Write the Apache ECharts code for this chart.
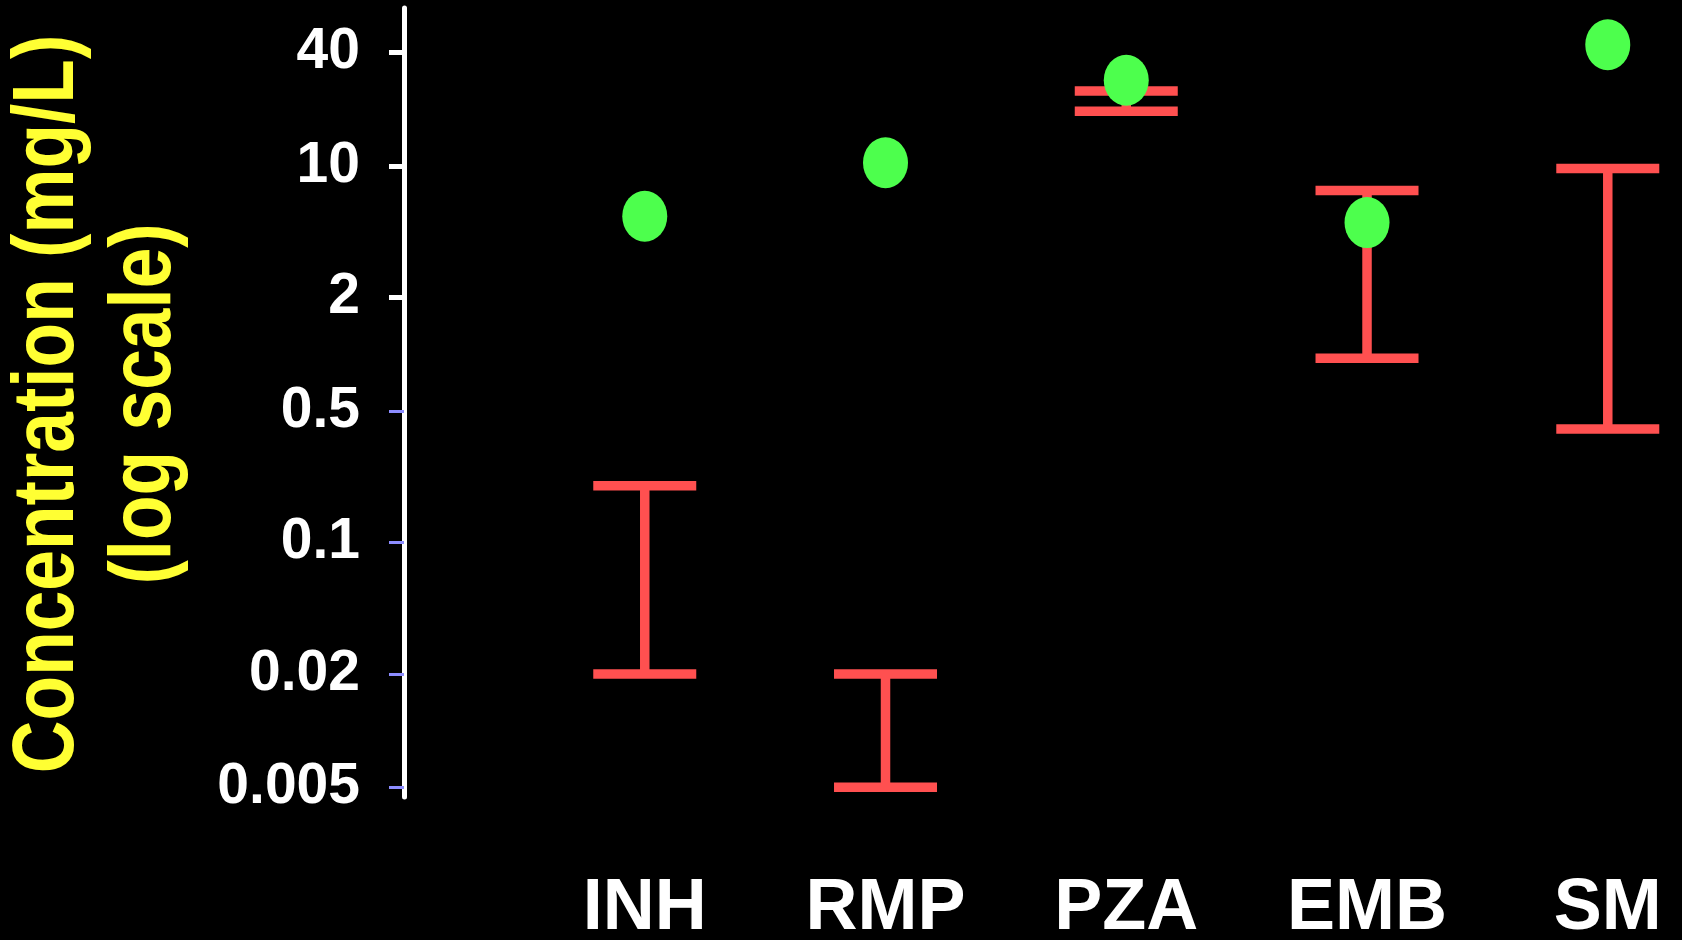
<!DOCTYPE html>
<html>
<head>
<meta charset="utf-8">
<title>Concentration by drug</title>
<script src="https://cdn.jsdelivr.net/npm/echarts@6/dist/echarts.min.js"></script>
<style>
  html, body { margin: 0; padding: 0; background: #000; }
  #chart { width: 1682px; height: 940px; }
</style>
</head>
<body>
<div id="chart"></div>
<script>
// Drugs along the x axis
const categories = ['INH', 'RMP', 'PZA', 'EMB', 'SM'];
// Peak concentration for each drug (mg/L), green dots
const peakValues = [5.4, 10.4, 28.5, 5, 44];
// Range bars (mg/L), red I-beams
const rangeLow = [0.02, 0.005, 19.5, 0.95, 0.4];
const rangeHigh = [0.2, 0.02, 25, 7.4, 9.7];
// Labelled positions on the log y axis
const yTickValues = [0.005, 0.02, 0.1, 0.5, 2, 10, 40];
const yTickLabels = ['0.005', '0.02', '0.1', '0.5', '2', '10', '40'];
const yTitle = 'Concentration (mg/L)\n(log scale)';

const chart = echarts.init(document.getElementById('chart'), null, { renderer: 'canvas' });

const RED = '#ff5050';
const GREEN = '#4dff4d';
const BOLD_FONT = "'Liberation Sans', Arial, Helvetica, sans-serif";

const catPos = categories.map((c, i) => i + 1);

function yLabel(v) {
  let best = 0;
  yTickValues.forEach((t, i) => {
    if (Math.abs(Math.log10(t) - Math.log10(v)) < Math.abs(Math.log10(yTickValues[best]) - Math.log10(v))) best = i;
  });
  return yTickLabels[best];
}

const yMin = 0.00444, yMax = 69;

chart.setOption({
  backgroundColor: '#000',
  animation: false,
  grid: { left: 404, top: 8, bottom: 143, right: 2, containLabel: false, outerBoundsMode: 'none' },
  // rotated, condensed axis title
  graphic: [
    {
      type: 'text',
      x: 97,
      y: 404,
      rotation: Math.PI / 2,
      scaleX: 0.83,
      style: {
        text: yTitle,
        fill: '#ffff33',
        fontSize: 88,
        fontWeight: 'bold',
        fontFamily: BOLD_FONT,
        lineHeight: 97,
        align: 'center',
        verticalAlign: 'middle'
      }
    }
  ],
  xAxis: {
    type: 'value',
    min: 0,
    max: 5.3,
    axisLine: { show: false },
    axisTick: { show: false },
    splitLine: { show: false },
    axisLabel: {
      customValues: catPos,
      formatter: v => categories[Math.round(v) - 1],
      color: '#fff',
      fontSize: 72,
      fontWeight: 'bold',
      fontFamily: BOLD_FONT,
      margin: 76
    }
  },
  yAxis: [
    {
      type: 'log',
      logBase: 10,
      min: yMin,
      max: yMax,
      axisLine: { show: true, lineStyle: { color: '#fff', width: 5 } },
      axisTick: {
        show: true,
        length: 15,
        customValues: [2, 10, 40],
        lineStyle: { color: '#fff', width: 5 }
      },
      axisLabel: {
        customValues: yTickValues,
        formatter: yLabel,
        color: '#fff',
        fontSize: 57,
        fontWeight: 'bold',
        fontFamily: BOLD_FONT,
        margin: 44
      },
      splitLine: { show: false }
    },
    {
      // thinner ticks for the sub-unit values
      type: 'log',
      logBase: 10,
      min: yMin,
      max: yMax,
      position: 'left',
      offset: 0,
      axisLine: { show: false },
      axisTick: {
        show: true,
        length: 15,
        customValues: [0.005, 0.02, 0.1, 0.5],
        lineStyle: { color: '#8c8cff', width: 3 }
      },
      axisLabel: { show: false },
      splitLine: { show: false }
    }
  ],
  series: [
    {
      type: 'custom',
      name: 'Range',
      yAxisIndex: 0,
      data: categories.map((c, i) => [i + 1, rangeLow[i], rangeHigh[i]]),
      renderItem: function (params, api) {
        const x = api.value(0);
        const lo = api.coord([x, api.value(1)]);
        const hi = api.coord([x, api.value(2)]);
        const half = 51.5;
        const style = { stroke: RED, lineWidth: 9.5 };
        return {
          type: 'group',
          children: [
            { type: 'line', shape: { x1: hi[0], y1: hi[1], x2: lo[0], y2: lo[1] }, style: style },
            { type: 'line', shape: { x1: hi[0] - half, y1: hi[1], x2: hi[0] + half, y2: hi[1] }, style: style },
            { type: 'line', shape: { x1: lo[0] - half, y1: lo[1], x2: lo[0] + half, y2: lo[1] }, style: style }
          ]
        };
      },
      z: 2
    },
    {
      type: 'scatter',
      name: 'Peak',
      yAxisIndex: 0,
      data: categories.map((c, i) => [i + 1, peakValues[i]]),
      symbol: 'path://M50,0A50,50,0,1,1,50,100A50,50,0,1,1,50,0Z',
      symbolKeepAspect: false,
      symbolSize: [45, 51],
      itemStyle: { color: GREEN, opacity: 1 },
      z: 3
    }
  ]
});
</script>
</body>
</html>
